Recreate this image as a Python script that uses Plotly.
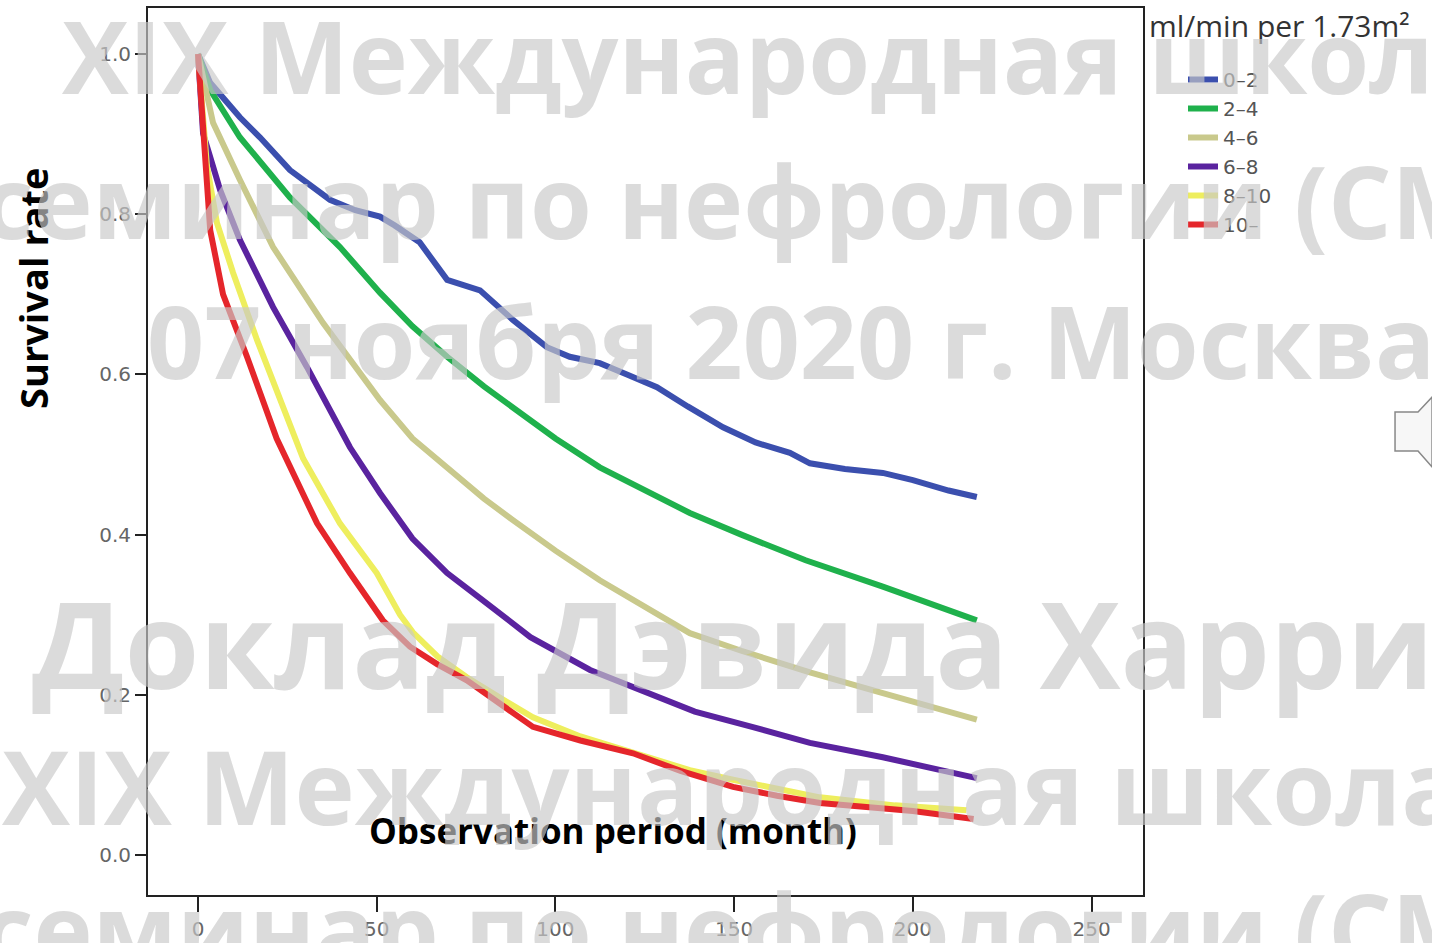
import plotly.graph_objects as go

# ---- data ----
groups = ["0\u20132", "2\u20134", "4\u20136", "6\u20138", "8\u201310", "10\u2013"]
colors = ["#3b4fae", "#1fb14c", "#c9c98c", "#5a239f", "#eeee5e", "#e5262b"]

x_g1 = [0, 3.4, 11.7, 17.3, 25.7, 36.9, 44, 50.9, 55, 62, 69.7, 78.9, 88.1, 97.6, 104, 112.4, 120, 128.4, 137, 146.9, 156, 165.6, 171.2, 181, 191.6, 200, 210, 217.9]
y_g1 = [1.0, 0.964, 0.921, 0.896, 0.855, 0.818, 0.805, 0.797, 0.786, 0.765, 0.718, 0.705, 0.668, 0.634, 0.622, 0.614, 0.600, 0.584, 0.560, 0.534, 0.515, 0.502, 0.489, 0.482, 0.477, 0.468, 0.455, 0.447]

x_g2 = [0, 3.4, 11.7, 25.7, 39.7, 50.9, 60, 69.7, 80, 88.1, 100, 112.4, 125, 137.6, 152, 170, 191.6, 205, 217.9]
y_g2 = [1.0, 0.955, 0.896, 0.821, 0.759, 0.702, 0.660, 0.622, 0.585, 0.559, 0.520, 0.484, 0.455, 0.427, 0.400, 0.368, 0.335, 0.313, 0.293]

x_g3 = [0, 4.2, 11.7, 21, 35, 50.9, 60, 69.7, 80, 88.1, 100, 112.4, 121.7, 137.6, 152, 171.2, 191.6, 205, 217.9]
y_g3 = [1.0, 0.914, 0.843, 0.759, 0.664, 0.568, 0.520, 0.484, 0.445, 0.418, 0.380, 0.343, 0.318, 0.277, 0.255, 0.228, 0.202, 0.185, 0.169]

x_g4 = [0, 1.4, 6.2, 11.7, 21, 30.5, 42.5, 50.9, 60, 69.7, 79.7, 93, 109.7, 125, 139, 155, 171.2, 191.6, 205, 217.9]
y_g4 = [1.0, 0.901, 0.830, 0.768, 0.684, 0.609, 0.509, 0.452, 0.395, 0.352, 0.318, 0.272, 0.231, 0.203, 0.179, 0.160, 0.140, 0.122, 0.108, 0.096]

x_g5 = [0, 2.5, 5.3, 9.8, 16.5, 25.7, 29.4, 39.7, 50, 56.5, 60.1, 67, 75.2, 85, 93.7, 107, 121.7, 137.6, 149.7, 162, 174, 195, 215]
y_g5 = [1.0, 0.86, 0.789, 0.727, 0.643, 0.539, 0.495, 0.414, 0.352, 0.300, 0.278, 0.248, 0.222, 0.195, 0.172, 0.148, 0.127, 0.106, 0.094, 0.083, 0.072, 0.062, 0.056]

x_g6 = [0, 1, 2, 3.4, 7, 13.7, 22, 28, 33.3, 42.5, 51.7, 59.3, 67, 75.2, 85, 93.7, 107, 121.7, 135, 149.7, 162, 174, 200, 217]
y_g6 = [1.0, 0.93, 0.86, 0.78, 0.70, 0.622, 0.52, 0.462, 0.414, 0.352, 0.293, 0.260, 0.238, 0.218, 0.188, 0.160, 0.143, 0.127, 0.105, 0.085, 0.074, 0.065, 0.055, 0.045]

series_x = [x_g1, x_g2, x_g3, x_g4, x_g5, x_g6]
series_y = [y_g1, y_g2, y_g3, y_g4, y_g5, y_g6]

x_ticks = [0, 50, 100, 150, 200, 250]
y_ticks = [0.0, 0.2, 0.4, 0.6, 0.8, 1.0]

legend_title = "ml/min per 1.73m\u00b2"
x_title = "Observation period (month)"
y_title = "Survival rate"

watermark_lines = [
    "XIX Международная школа",
    "семинар по нефрологии (СМ",
    "07 ноября 2020 г. Москва",
    "Доклад Дэвида Харриса",
    "XIX Международная школа",
    "семинар по нефрологии (СМ",
]
watermark_sizes = [100, 100, 100, 121, 102, 100]

# ---- figure ----
W, H = 1432, 943
L, R, T, B = 148, 1143, 8, 895


def px_x(p):
    return (p - L) / (R - L)


def px_y(p):
    return (B - p) / (B - T)


fig = go.Figure()
for name, c, xs, ys in zip(groups, colors, series_x, series_y):
    fig.add_trace(go.Scatter(x=xs, y=ys, mode="lines", name=name,
                             line=dict(color=c, width=6)))

axis_common = dict(showline=True, linecolor="#222", linewidth=2, mirror=True,
                   ticks="outside", tickcolor="#222", tickwidth=2,
                   showgrid=False, zeroline=False, automargin=False,
                   tickfont=dict(family="DejaVu Sans", size=20, color="#666"))

fig.update_xaxes(range=[-14, 264.4], tickvals=x_ticks, ticklen=15,
                 ticklabelstandoff=0, **axis_common)
fig.update_yaxes(range=[-0.0499, 1.0574], tickvals=y_ticks, tickformat=".1f",
                 ticklen=11, **axis_common)

# axis titles
fig.add_annotation(x=px_x(33), y=px_y(288), xref="paper", yref="paper",
                   xanchor="center", yanchor="middle",
                   text="<b>" + y_title + "</b>", textangle=-90, showarrow=False,
                   font=dict(family="Open Sans", size=38, color="#000"))
fig.add_annotation(x=px_x(613), y=px_y(830), xref="paper", yref="paper",
                   xanchor="center", yanchor="middle",
                   text="<b>" + x_title + "</b>", showarrow=False,
                   font=dict(family="Open Sans", size=35, color="#000"))

# legend title
fig.add_annotation(x=px_x(1147), y=px_y(25), xref="paper", yref="paper",
                   xanchor="left", yanchor="middle", text=legend_title,
                   showarrow=False,
                   font=dict(family="Open Sans", size=30, color="#333"))

# watermark
wm_pos = [(60, 55), (-20, 200), (145, 340), (30, 642), (0, 785), (-20, 928)]
for txt, (wx, wy), sz in zip(watermark_lines, wm_pos, watermark_sizes):
    fig.add_annotation(x=px_x(wx), y=px_y(wy), xref="paper", yref="paper",
                       xanchor="left", yanchor="middle", text="<b>" + txt + "</b>",
                       showarrow=False,
                       font=dict(family="Open Sans", size=sz,
                                 color="rgba(200,200,200,0.66)"))

# speaker icon outline at right edge
pts = [(1395, 412), (1418, 412), (1432, 397), (1432, 467), (1418, 451), (1395, 451)]
path = "M " + " L ".join(f"{px_x(a):.4f},{px_y(b):.4f}" for a, b in pts) + " Z"
fig.add_shape(type="path", path=path, xref="paper", yref="paper",
              line=dict(color="#888", width=1.5), fillcolor="#f7f7f7")

fig.update_layout(
    width=W, height=H,
    margin=dict(l=L, r=W - R, t=T, b=H - B, autoexpand=False),
    paper_bgcolor="white", plot_bgcolor="white",
    showlegend=True,
    legend=dict(x=px_x(1183), y=px_y(60), xanchor="left", yanchor="top",
                bgcolor="rgba(0,0,0,0)", itemwidth=30,
                font=dict(family="DejaVu Sans", size=20, color="#555"),
                tracegroupgap=0),
)

fig.write_html("out.html")
